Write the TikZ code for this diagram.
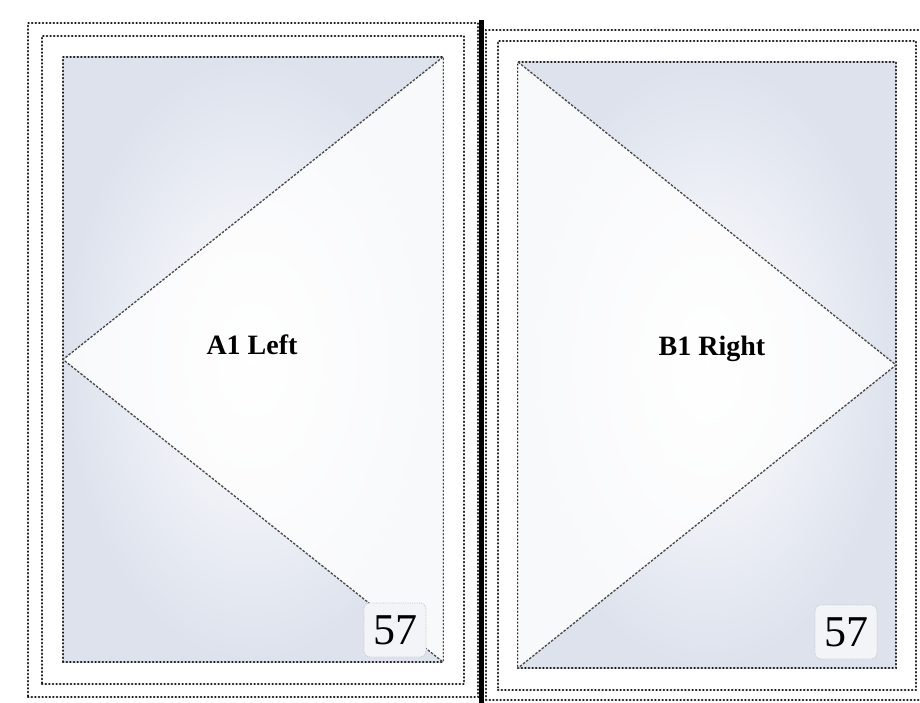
\documentclass[tikz,border=0pt]{standalone}
\usepackage{fontspec}
\setmainfont{Liberation Serif}
\definecolor{panelblue}{RGB}{221,226,237}
\definecolor{dotink}{RGB}{25,25,25}
\definecolor{badgefill}{RGB}{242,244,248}
\tikzset{
  framebox/.style={draw=dotink, line width=2.3pt, line cap=round, dash pattern=on 0.4pt off 3.2pt, inner sep=0pt, outer sep=0pt},
  panelbox/.style={framebox, inner color=white, outer color=panelblue},
  diag/.style={draw=dotink!80, line width=1.3pt, dash pattern=on 2.5pt off 1.5pt},
  label/.style={font=\bfseries\fontsize{28}{30}\selectfont, text=black},
  badge/.style={rounded corners=6pt, fill=badgefill, draw=gray!45, densely dotted, line width=0.8pt, minimum width=62pt, minimum height=54pt, font=\fontsize{44}{44}\selectfont, inner sep=0pt},
  bar/.style={fill=black, draw=none}
}
\begin{document}
\begin{tikzpicture}[x=1pt, y=-1pt]
\useasboundingbox (0,0) rectangle (920,703);
\clip (0,0) rectangle (920,703);
\fill[white] (0,0) rectangle (920,703);

% left panel frames
\node[framebox, minimum width=450pt, minimum height=674pt] (LA) at (253,360) {};
\node[framebox, minimum width=422pt, minimum height=648pt] (LB) at (253,360) {};
\node[panelbox, minimum width=380pt, minimum height=605pt] (LP) at (253,359.5) {};
\fill[white, opacity=0.8] (LP.north east) -- (LP.west) -- (LP.south east) -- cycle;
\draw[diag] (LP.north east) -- (LP.west) -- (LP.south east);

% right panel frames
\node[framebox, minimum width=439pt, minimum height=670pt] (RA) at (705.5,365) {};
\node[framebox, minimum width=418pt, minimum height=649pt] (RB) at (707,365.5) {};
\node[panelbox, minimum width=378pt, minimum height=606pt] (RP) at (707,365) {};
\fill[white, opacity=0.8] (RP.north west) -- (RP.east) -- (RP.south west) -- cycle;
\draw[diag] (RP.north west) -- (RP.east) -- (RP.south west);

% separator bar
\node[bar, minimum width=5pt, minimum height=684pt, inner sep=0pt] (sep) at (481,362) {};

% labels
\node[label] (tL) at (252,345) {A1 Left};
\node[label] (tR) at (712,349) {B1 Right};

% badges
\node[badge] (bL) at (395,630) {57};
\node[badge] (bR) at (846,632) {57};
\end{tikzpicture}
\end{document}
